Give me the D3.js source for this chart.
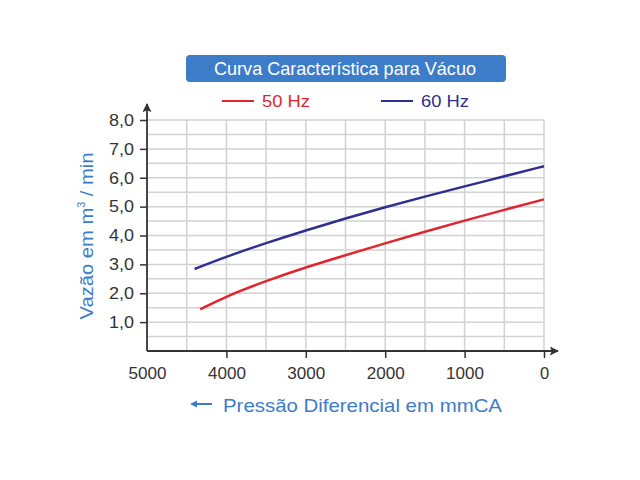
<!DOCTYPE html>
<html>
<head>
<meta charset="utf-8">
<script src="https://cdn.jsdelivr.net/npm/d3@7"></script>
<style>
  body { margin: 0; background: #fff; }
  svg { display: block; font-family: Arial, "Liberation Sans", sans-serif; }
</style>
</head>
<body>
<svg id="chart" width="640" height="480"></svg>
<script>
// Data (pressure in mmCA, flow in m3/min)
const pressure60 = [ 4400, 4000, 3500, 3000, 2500, 2000, 1500, 1000, 500, 0 ];
const flow60 = [ 2.84, 3.27, 3.74, 4.18, 4.59, 4.98, 5.35, 5.70, 6.05, 6.40 ];
const pressure50 = [ 4330, 4000, 3500, 3000, 2500, 2000, 1500, 1000, 500, 0 ];
const flow50 = [ 1.44, 1.90, 2.43, 2.90, 3.32, 3.73, 4.13, 4.52, 4.89, 5.25 ];
const xTicks = [ 5000, 4000, 3000, 2000, 1000, 0 ];
const yTicks = [ 1, 2, 3, 4, 5, 6, 7, 8 ];
const seriesNames = [ '50 Hz', '60 Hz' ];
const seriesColors = [ '#e0252f', '#2e2f8e' ];

const svg = d3.select( '#chart' );
const blue = '#3d7cc9';
const axisColor = '#333';
const fontFamily = 'Arial, "Liberation Sans", sans-serif';

const x = d3.scaleLinear().domain( [ 5000, 0 ] ).range( [ 147, 544 ] );
const y = d3.scaleLinear().domain( [ 0, 8 ] ).range( [ 351, 120 ] );

// grid
const grid = svg.append( 'g' ).attr( 'stroke', '#d2d2d2' ).attr( 'stroke-width', 1.5 );
grid.selectAll( 'line.v' )
	.data( d3.range( 4500, -1, -500 ) )
	.enter().append( 'line' )
	.attr( 'x1', ( d ) => x( d ) ).attr( 'x2', ( d ) => x( d ) )
	.attr( 'y1', y( 0 ) ).attr( 'y2', y( 8 ) );
grid.selectAll( 'line.h' )
	.data( d3.range( 0.5, 8.01, 0.5 ) )
	.enter().append( 'line' )
	.attr( 'x1', x( 5000 ) ).attr( 'x2', x( 0 ) )
	.attr( 'y1', ( d ) => y( d ) ).attr( 'y2', ( d ) => y( d ) );

// axes
const xAxis = d3.axisBottom( x )
	.tickValues( xTicks )
	.tickSize( 7 )
	.tickPadding( 9 )
	.tickFormat( d3.format( 'd' ) );
const gx = svg.append( 'g' ).attr( 'transform', `translate(0,${ y( 0 ) })` ).call( xAxis );
gx.select( '.domain' ).remove();
gx.selectAll( '.tick line' ).attr( 'stroke', axisColor ).attr( 'stroke-width', 1.5 )
	.filter( ( d ) => d === 5000 ).remove();
gx.selectAll( '.tick text' ).attr( 'fill', '#333' ).style( 'font-size', '16.5px' )
	.style( 'font-family', fontFamily )
	.attr( 'textLength', 38 ).attr( 'lengthAdjust', 'spacingAndGlyphs' )
	.attr( 'textLength', ( d ) => ( d === 0 ? null : 38 ) );

const yAxis = d3.axisLeft( y )
	.tickValues( yTicks )
	.tickSize( 7 )
	.tickPadding( 6 )
	.tickFormat( ( d ) => d3.format( '.1f' )( d ).replace( '.', ',' ) );
const gy = svg.append( 'g' ).attr( 'transform', `translate(${ x( 5000 ) },0)` ).call( yAxis );
gy.select( '.domain' ).remove();
gy.selectAll( '.tick line' ).attr( 'stroke', axisColor ).attr( 'stroke-width', 1.5 );
gy.selectAll( '.tick text' ).attr( 'fill', '#333' ).style( 'font-size', '16.5px' )
	.style( 'font-family', fontFamily )
	.attr( 'textLength', 25 ).attr( 'lengthAdjust', 'spacingAndGlyphs' );

// axis lines with arrowheads
const defs = svg.append( 'defs' );
defs.append( 'marker' )
	.attr( 'id', 'arrow' )
	.attr( 'viewBox', '0 0 10 10' )
	.attr( 'refX', 9 ).attr( 'refY', 5 )
	.attr( 'markerWidth', 9 ).attr( 'markerHeight', 9 )
	.attr( 'markerUnits', 'userSpaceOnUse' )
	.attr( 'orient', 'auto' )
	.append( 'path' )
	.attr( 'd', 'M0,0 L10,5 L0,10 L2,5 Z' )
	.attr( 'fill', axisColor );

svg.append( 'line' )
	.attr( 'x1', x( 5000 ) ).attr( 'x2', 558 )
	.attr( 'y1', y( 0 ) ).attr( 'y2', y( 0 ) )
	.attr( 'stroke', axisColor ).attr( 'stroke-width', 1.8 )
	.attr( 'marker-end', 'url(#arrow)' );
svg.append( 'line' )
	.attr( 'x1', x( 5000 ) ).attr( 'x2', x( 5000 ) )
	.attr( 'y1', y( 0 ) ).attr( 'y2', 104 )
	.attr( 'stroke', axisColor ).attr( 'stroke-width', 1.8 )
	.attr( 'marker-end', 'url(#arrow)' );

// curves
const line = d3.line()
	.x( ( d ) => x( d[ 0 ] ) )
	.y( ( d ) => y( d[ 1 ] ) )
	.curve( d3.curveBasis );

const series = [
	d3.zip( pressure50, flow50 ),
	d3.zip( pressure60, flow60 ),
];

svg.selectAll( 'path.curve' )
	.data( series )
	.enter().append( 'path' )
	.attr( 'class', 'curve' )
	.attr( 'd', line )
	.attr( 'fill', 'none' )
	.attr( 'stroke', ( d, i ) => seriesColors[ i ] )
	.attr( 'stroke-width', 2.5 );

// title box
svg.append( 'rect' )
	.attr( 'x', 186 ).attr( 'y', 55 )
	.attr( 'width', 320 ).attr( 'height', 27 )
	.attr( 'rx', 4 )
	.attr( 'fill', blue );
svg.append( 'text' )
	.attr( 'x', 214 ).attr( 'y', 74.5 )
	.attr( 'fill', '#fff' )
	.attr( 'textLength', 262 ).attr( 'lengthAdjust', 'spacingAndGlyphs' )
	.style( 'font-size', '18.5px' )
	.text( 'Curva Característica para Vácuo' );

// legend
const legendX = [ 222, 381 ];
seriesNames.forEach( ( name, i ) => {
	svg.append( 'line' )
		.attr( 'x1', legendX[ i ] ).attr( 'x2', legendX[ i ] + 32 )
		.attr( 'y1', 101 ).attr( 'y2', 101 )
		.attr( 'stroke', seriesColors[ i ] ).attr( 'stroke-width', 2 );
	svg.append( 'text' )
		.attr( 'x', legendX[ i ] + 40 ).attr( 'y', 107 )
		.attr( 'fill', seriesColors[ i ] )
		.attr( 'textLength', 48 ).attr( 'lengthAdjust', 'spacingAndGlyphs' )
		.style( 'font-size', '17px' )
		.text( name );
} );

// y title
const yTitle = svg.append( 'text' )
	.attr( 'transform', 'translate(93,236) rotate(-90)' )
	.attr( 'x', -83.5 )
	.attr( 'fill', blue )
	.style( 'font-size', '19px' );
yTitle.append( 'tspan' ).text( 'Vazão em m' );
yTitle.append( 'tspan' ).attr( 'dy', -8 ).style( 'font-size', '10px' ).text( '3' );
yTitle.append( 'tspan' ).attr( 'dy', 8 ).text( ' / min' );
yTitle.attr( 'textLength', 167 ).attr( 'lengthAdjust', 'spacingAndGlyphs' );

// x title
svg.append( 'line' )
	.attr( 'x1', 192 ).attr( 'x2', 212 )
	.attr( 'y1', 404 ).attr( 'y2', 404 )
	.attr( 'stroke', blue ).attr( 'stroke-width', 2 );
svg.append( 'path' )
	.attr( 'd', 'M190,404 L197,400.5 L197,407.5 Z' )
	.attr( 'fill', blue );
svg.append( 'text' )
	.attr( 'x', 223 ).attr( 'y', 411.5 )
	.attr( 'fill', blue )
	.attr( 'textLength', 279 ).attr( 'lengthAdjust', 'spacingAndGlyphs' )
	.style( 'font-size', '19px' )
	.text( 'Pressão Diferencial em mmCA' );
</script>
</body>
</html>
